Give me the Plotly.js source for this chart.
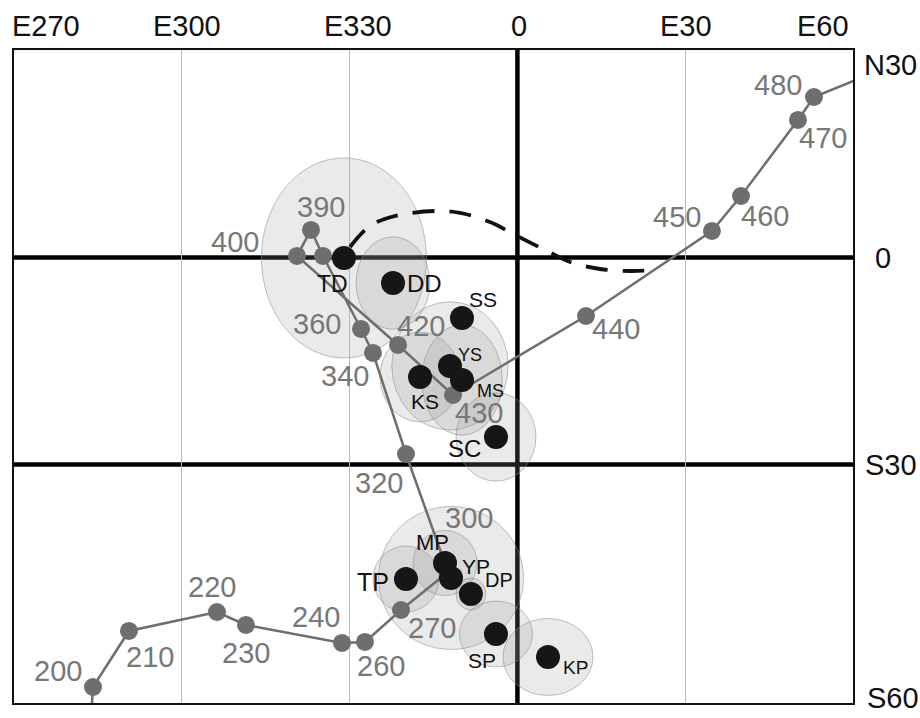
<!DOCTYPE html>
<html>
<head>
<meta charset="utf-8">
<script src="https://cdn.plot.ly/plotly-3.0.1.min.js"></script>
<style>html,body{margin:0;padding:0;background:#fff;}#chart{width:920px;height:718px;}</style>
</head>
<body>
<div id="chart"></div>
<script>
// ---- Data (longitude in degrees E, negative = west of 0; latitude in degrees, negative = south) ----
// Apparent polar wander path, ages in Ma (190 and 490 lie just outside the frame)
const apwpAge = [190, 200, 210, 220, 230, 240, 260, 270, 300, 320, 340, 360, 380, 390, 400, 420, 430, 440, 450, 460, 470, 480, 490];
const apwpLon = [-76.24, -75.88, -69.45, -53.71, -48.53, -31.36, -27.25, -20.81, -12.41, -19.92, -25.82, -27.96, -34.76, -36.90, -39.41, -21.35, -11.51, 12.26, 34.78, 39.97, 50.16, 53.02, 64.83];
const apwpLat = [-67.03, -62.25, -54.13, -51.38, -53.26, -55.87, -55.72, -51.09, -45.58, -28.48, -13.84, -10.36, 0.22, 3.99, 0.22, -12.68, -19.93, -8.48, 3.84, 8.91, 19.93, 23.26, 27.17];
const apwpLabeled = [false, true, true, true, true, true, true, true, true, true, true, true, false, true, true, true, true, true, true, true, true, true, false];

// Palaeomagnetic poles and their confidence ellipses (semi-axes in degrees)
const poleName = ['TD', 'DD', 'SS', 'YS', 'MS', 'KS', 'SC', 'MP', 'YP', 'DP', 'TP', 'SP', 'KP'];
const poleLon  = [-31.01, -22.24, -9.91, -12.05, -9.91, -17.41, -3.83, -12.94, -11.87, -8.31, -19.92, -3.83, 5.47];
const poleLat  = [-0.07, -3.70, -8.77, -15.72, -17.75, -17.32, -26.01, -44.28, -46.45, -48.77, -46.59, -54.57, -57.90];
const ellLon   = [14.75, 6.6, null, 10.4, 7.2, 7.15, 7.15, 5.72, 12.96, 2.68, 5.9, 6.53, 8.05];
const ellLat   = [14.5, 6.7, null, 9.3, 8.0, 6.5, 6.4, 4.71, 10.36, 2.32, 4.78, 4.78, 5.58];

// Dashed curve
const dashLon = [-29.93, -26.35, -21.88, -14.73, -10.26, -4.90, -0.07, 4.94, 9.41, 14.77, 20.13, 24.58];
const dashLat = [1.52, 4.57, 6.01, 6.74, 6.45, 5.14, 3.12, 1.09, -0.65, -1.67, -1.96, -1.81];

// Axis ticks
const lonTickVals = [-90, -60, -30, 0, 30, 60];
const lonTickText = ['E270', 'E300', 'E330', '0', 'E30', 'E60'];
const latTickVals = [30, 0, -30, -60];
const latTickText = ['N30', '0', 'S30', 'S60'];
const lonGrid = [-60, -30, 30];
const lonThick = [0];
const latThick = [0, -30];

// ---- Styling (label offsets in px: [dx right, dy down]) ----
const ageOffset = {200:[-35,-16],210:[21,26],220:[-5,-25],230:[0,28],240:[-26,-26],260:[16,24],270:[31,18],300:[21,-54],320:[-27,29],340:[-28,23],360:[-44,-5],390:[10,-23],400:[-62,-14],420:[23,-19],430:[26,18],440:[30,13],450:[-35,-14],460:[24,20],470:[25,18],480:[-36,-12]};
const poleOffset = {TD:[-11,26],DD:[31,0],SS:[21,-18],YS:[20,-11],MS:[29,11],KS:[5,25],SC:[-31,12],MP:[-13,-21],YP:[25,-11],DP:[28,-14],TP:[-33,3],SP:[-14,26],KP:[27,11]};
const poleFont = {TD:23,DD:24,SS:21,YS:18,MS:18,KS:21,SC:24,MP:22,YP:21,DP:20,TP:25,SP:21,KP:19};
const topShift = [32, 5, 8, 2, 1, -30];
const rightShiftY = [-15, -1, -1, -27];
const rightShiftX = [9, 20, 10, 12];

const FONT = 'Liberation Sans, Arial, Helvetica, sans-serif';
const GRAY = '#6e6e6e';
const GRAYTXT = '#777777';

const traces = [
  {x: dashLon, y: dashLat, type: 'scatter', mode: 'lines', line: {color: '#111', width: 3.8, dash: '22px,15px', shape: 'spline'}, hoverinfo: 'skip'},
  {x: apwpLon, y: apwpLat, type: 'scatter', mode: 'lines+markers', line: {color: GRAY, width: 2.5}, marker: {color: GRAY, size: 18}, hoverinfo: 'skip'},
  {x: poleLon, y: poleLat, type: 'scatter', mode: 'markers', marker: {color: '#161616', size: 24}, hoverinfo: 'skip'}
];

const shapes = [];
for (let i = 0; i < poleName.length; i++) {
  if (ellLon[i] == null) continue;
  shapes.push({type: 'circle', xref: 'x', yref: 'y', layer: 'below',
    x0: poleLon[i] - ellLon[i], x1: poleLon[i] + ellLon[i], y0: poleLat[i] - ellLat[i], y1: poleLat[i] + ellLat[i],
    fillcolor: 'rgba(150,150,150,0.2)', line: {color: 'rgba(140,140,140,0.55)', width: 1}});
}
lonThick.forEach(v => shapes.push({type: 'line', xref: 'x', yref: 'paper', layer: 'below', x0: v, x1: v, y0: 0, y1: 1, line: {color: '#000', width: 4.5}}));
latThick.forEach(v => shapes.push({type: 'line', xref: 'paper', yref: 'y', layer: 'below', x0: 0, x1: 1, y0: v, y1: v, line: {color: '#000', width: 4.5}}));

const annotations = [];
apwpAge.forEach((a, i) => {
  if (!apwpLabeled[i]) return;
  const o = ageOffset[a];
  annotations.push({x: apwpLon[i], y: apwpLat[i], xref: 'x', yref: 'y', text: String(a), showarrow: false,
    xshift: o[0], yshift: -o[1], xanchor: 'center', yanchor: 'middle', font: {family: FONT, size: 29, color: GRAYTXT}});
});
poleName.forEach((n, i) => {
  const o = poleOffset[n];
  annotations.push({x: poleLon[i], y: poleLat[i], xref: 'x', yref: 'y', text: n, showarrow: false,
    xshift: o[0], yshift: -o[1], xanchor: 'center', yanchor: 'middle', font: {family: FONT, size: poleFont[n], color: '#111'}});
});
lonTickVals.forEach((v, i) => {
  annotations.push({x: v, y: 1, xref: 'x', yref: 'paper', text: lonTickText[i], showarrow: false,
    xshift: topShift[i], yshift: 6, xanchor: 'center', yanchor: 'bottom', font: {family: FONT, size: 29, color: '#111'}});
});
latTickVals.forEach((v, i) => {
  annotations.push({x: 1, y: v, xref: 'paper', yref: 'y', text: latTickText[i], showarrow: false,
    xshift: rightShiftX[i], yshift: rightShiftY[i], xanchor: 'left', yanchor: 'middle', font: {family: FONT, size: 29, color: '#111'}});
});

const layout = {
  width: 920, height: 718,
  margin: {l: 14, r: 67, t: 50, b: 15},
  paper_bgcolor: '#fff', plot_bgcolor: '#fff',
  showlegend: false,
  xaxis: {range: [-90, 60], tickvals: lonGrid, showticklabels: false, ticks: '', showgrid: true, gridcolor: '#b8b8b8', gridwidth: 1,
    zeroline: false, showline: true, mirror: true, linecolor: '#111', linewidth: 2, fixedrange: true},
  yaxis: {range: [-64.57, 30.07], showticklabels: false, ticks: '', showgrid: false, zeroline: false,
    showline: true, mirror: true, linecolor: '#111', linewidth: 2, fixedrange: true},
  shapes: shapes,
  annotations: annotations
};

Plotly.newPlot('chart', traces, layout, {displayModeBar: false, staticPlot: true});
</script>
</body>
</html>
